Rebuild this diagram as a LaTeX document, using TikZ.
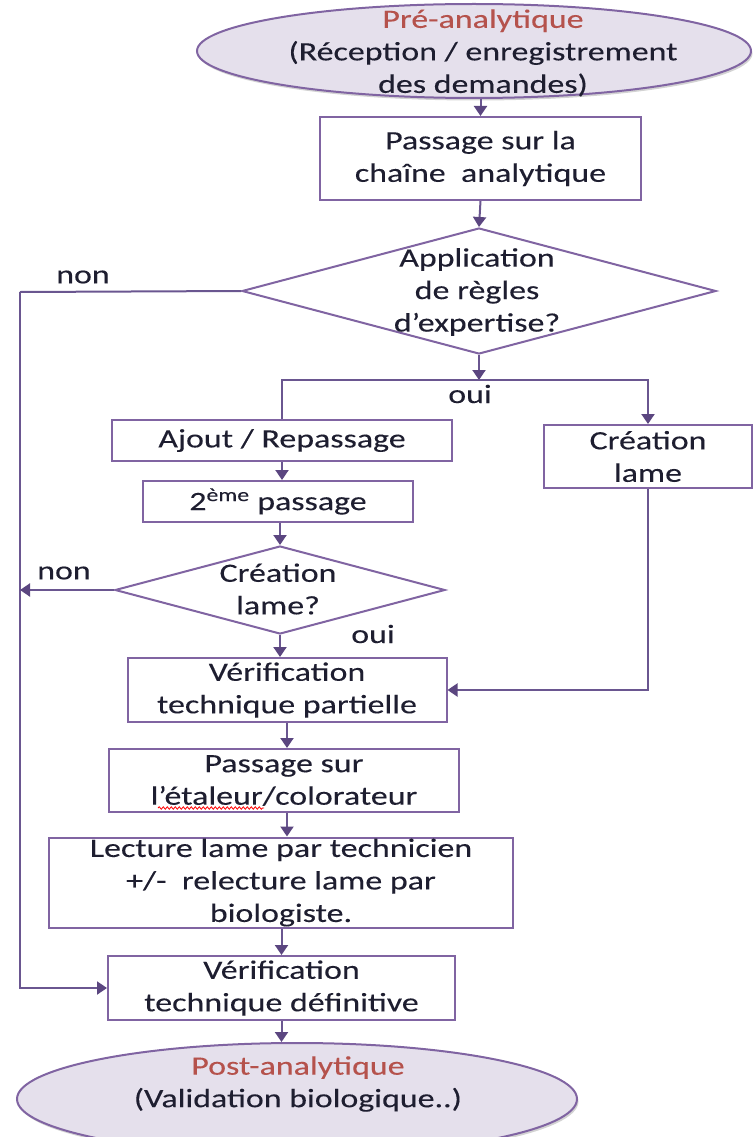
\documentclass[tikz,border=0pt]{standalone}
\usepackage{fontspec}
\setmainfont{Carlito}[FakeStretch=1.28,FakeBold=0.15]
\usetikzlibrary{shapes.geometric,arrows.meta,shadows,decorations.pathmorphing}
\definecolor{boxc}{HTML}{8064A2}
\definecolor{connc}{HTML}{6A5690}
\definecolor{tipc}{HTML}{5B4680}
\definecolor{ellfill}{HTML}{E5E0EC}
\definecolor{txtc}{HTML}{1E1E30}
\definecolor{titlec}{HTML}{B5524C}
\begin{document}
\begin{tikzpicture}[x=1pt,y=-1pt,
  every node/.style={text=txtc, font=\fontsize{26.5}{32.5}\selectfont},
  stepbox/.style={draw=boxc, line width=2pt, fill=white, rectangle, inner sep=0pt, align=center},
  decbox/.style={draw=boxc, line width=2pt, fill=white, diamond, inner sep=0pt},
  ellbox/.style={draw=boxc, line width=2pt, fill=ellfill, ellipse, inner sep=0pt,
     drop shadow={opacity=0.35, shadow xshift=1.5pt, shadow yshift=-2.5pt, fill=gray}},
  lbl/.style={align=center, inner sep=0pt},
  conn/.style={draw=connc, line width=2pt},
  arr/.style={conn, -{Triangle[width=13pt,length=10pt,color=tipc]}}
]
\useasboundingbox (0,0) rectangle (753,1137);

% ellipses
\node[ellbox, minimum width=554, minimum height=94] (e1) at (474,51) {};
\node[lbl] (e1t) at (483,53) {\textcolor{titlec}{Pré-analytique}\\(Réception / enregistrement\\des demandes)};

\node[ellbox, minimum width=560, minimum height=112] (e2) at (297,1099) {};
\node[lbl] (e2t) at (298,1084) {\textcolor{titlec}{Post-analytique}\\(Validation biologique..)};

% boxes
\node[stepbox, minimum width=321, minimum height=83] (b1) at (480.5,158.5) {Passage sur la\\chaîne\ \ analytique};
\node[decbox, minimum width=474, minimum height=126] (d1) at (479,291) {};
\node[lbl] (d1t) at (477,292) {Application\\de règles\\d’expertise?};

\node[stepbox, minimum width=340, minimum height=41] (ajout) at (282,440.5) {Ajout / Repassage};
\node[stepbox, minimum width=208, minimum height=63] (crea) at (648,456.5) {Création\\lame};
\node[stepbox, minimum width=270, minimum height=41] (deux) at (278,501.5) {2\textsuperscript{ème} passage};

\node[decbox, minimum width=330, minimum height=88] (d2) at (280,590) {};
\node[lbl] (d2t) at (278,589) {Création\\lame?};

\node[stepbox, minimum width=319, minimum height=64] (vtp) at (287,690) {Vérification\\technique partielle};
\node[stepbox, minimum width=350, minimum height=63] (eta) at (284,780.5) {Passage sur\\l’étaleur/colorateur};
\node[stepbox, minimum width=464, minimum height=90] (lec) at (281,882.5) {Lecture lame par technicien\\+/-\ \ relecture lame par\\biologiste.};
\node[stepbox, minimum width=347, minimum height=64] (vtd) at (281.5,988) {Vérification\\technique définitive};

% labels
\node[lbl] (non1) at (83,277) {non};
\node[lbl] (oui1) at (470,394) {oui};
\node[lbl] (non2) at (64,573) {non};
\node[lbl] (oui2) at (373,634) {oui};

% spell-check squiggle
\coordinate (sq1) at (158,808);
\coordinate (sq2) at (264,808);
\draw[red, line width=0.8pt, decorate, decoration={snake, amplitude=1.2pt, segment length=4pt}] (sq1) -- (sq2);

% connectors
\coordinate (nl) at (20,292);
\coordinate (sp) at (479,380);
\draw[arr] (b1.north |- e1.south) -- (b1.north);
\draw[arr] (b1.south) -- (d1.north);
\draw[conn] (d1.west) -- (nl);
\draw[arr] (nl) |- (vtd.west);
\draw[arr] (d1.south) -- (sp);
\draw[conn] (ajout.north) |- (sp);
\draw[arr] (sp) -| (crea.north);
\draw[arr] (ajout.south) -- (ajout.south |- deux.north);
\draw[arr] (deux.south -| d2.north) -- (d2.north);
\draw[arr] (d2.west) -- (d2.west -| nl);
\draw[arr] (d2.south) -- (d2.south |- vtp.north);
\draw[arr] (crea.south) |- (vtp.east);
\draw[arr] (vtp.south) -- (vtp.south |- eta.north);
\draw[arr] (vtp.south |- eta.south) -- (vtp.south |- lec.north);
\draw[arr] (vtd.north |- lec.south) -- (vtd.north);
\draw[arr] (vtd.south) -- (vtd.south |- e2.north);
\end{tikzpicture}
\end{document}
